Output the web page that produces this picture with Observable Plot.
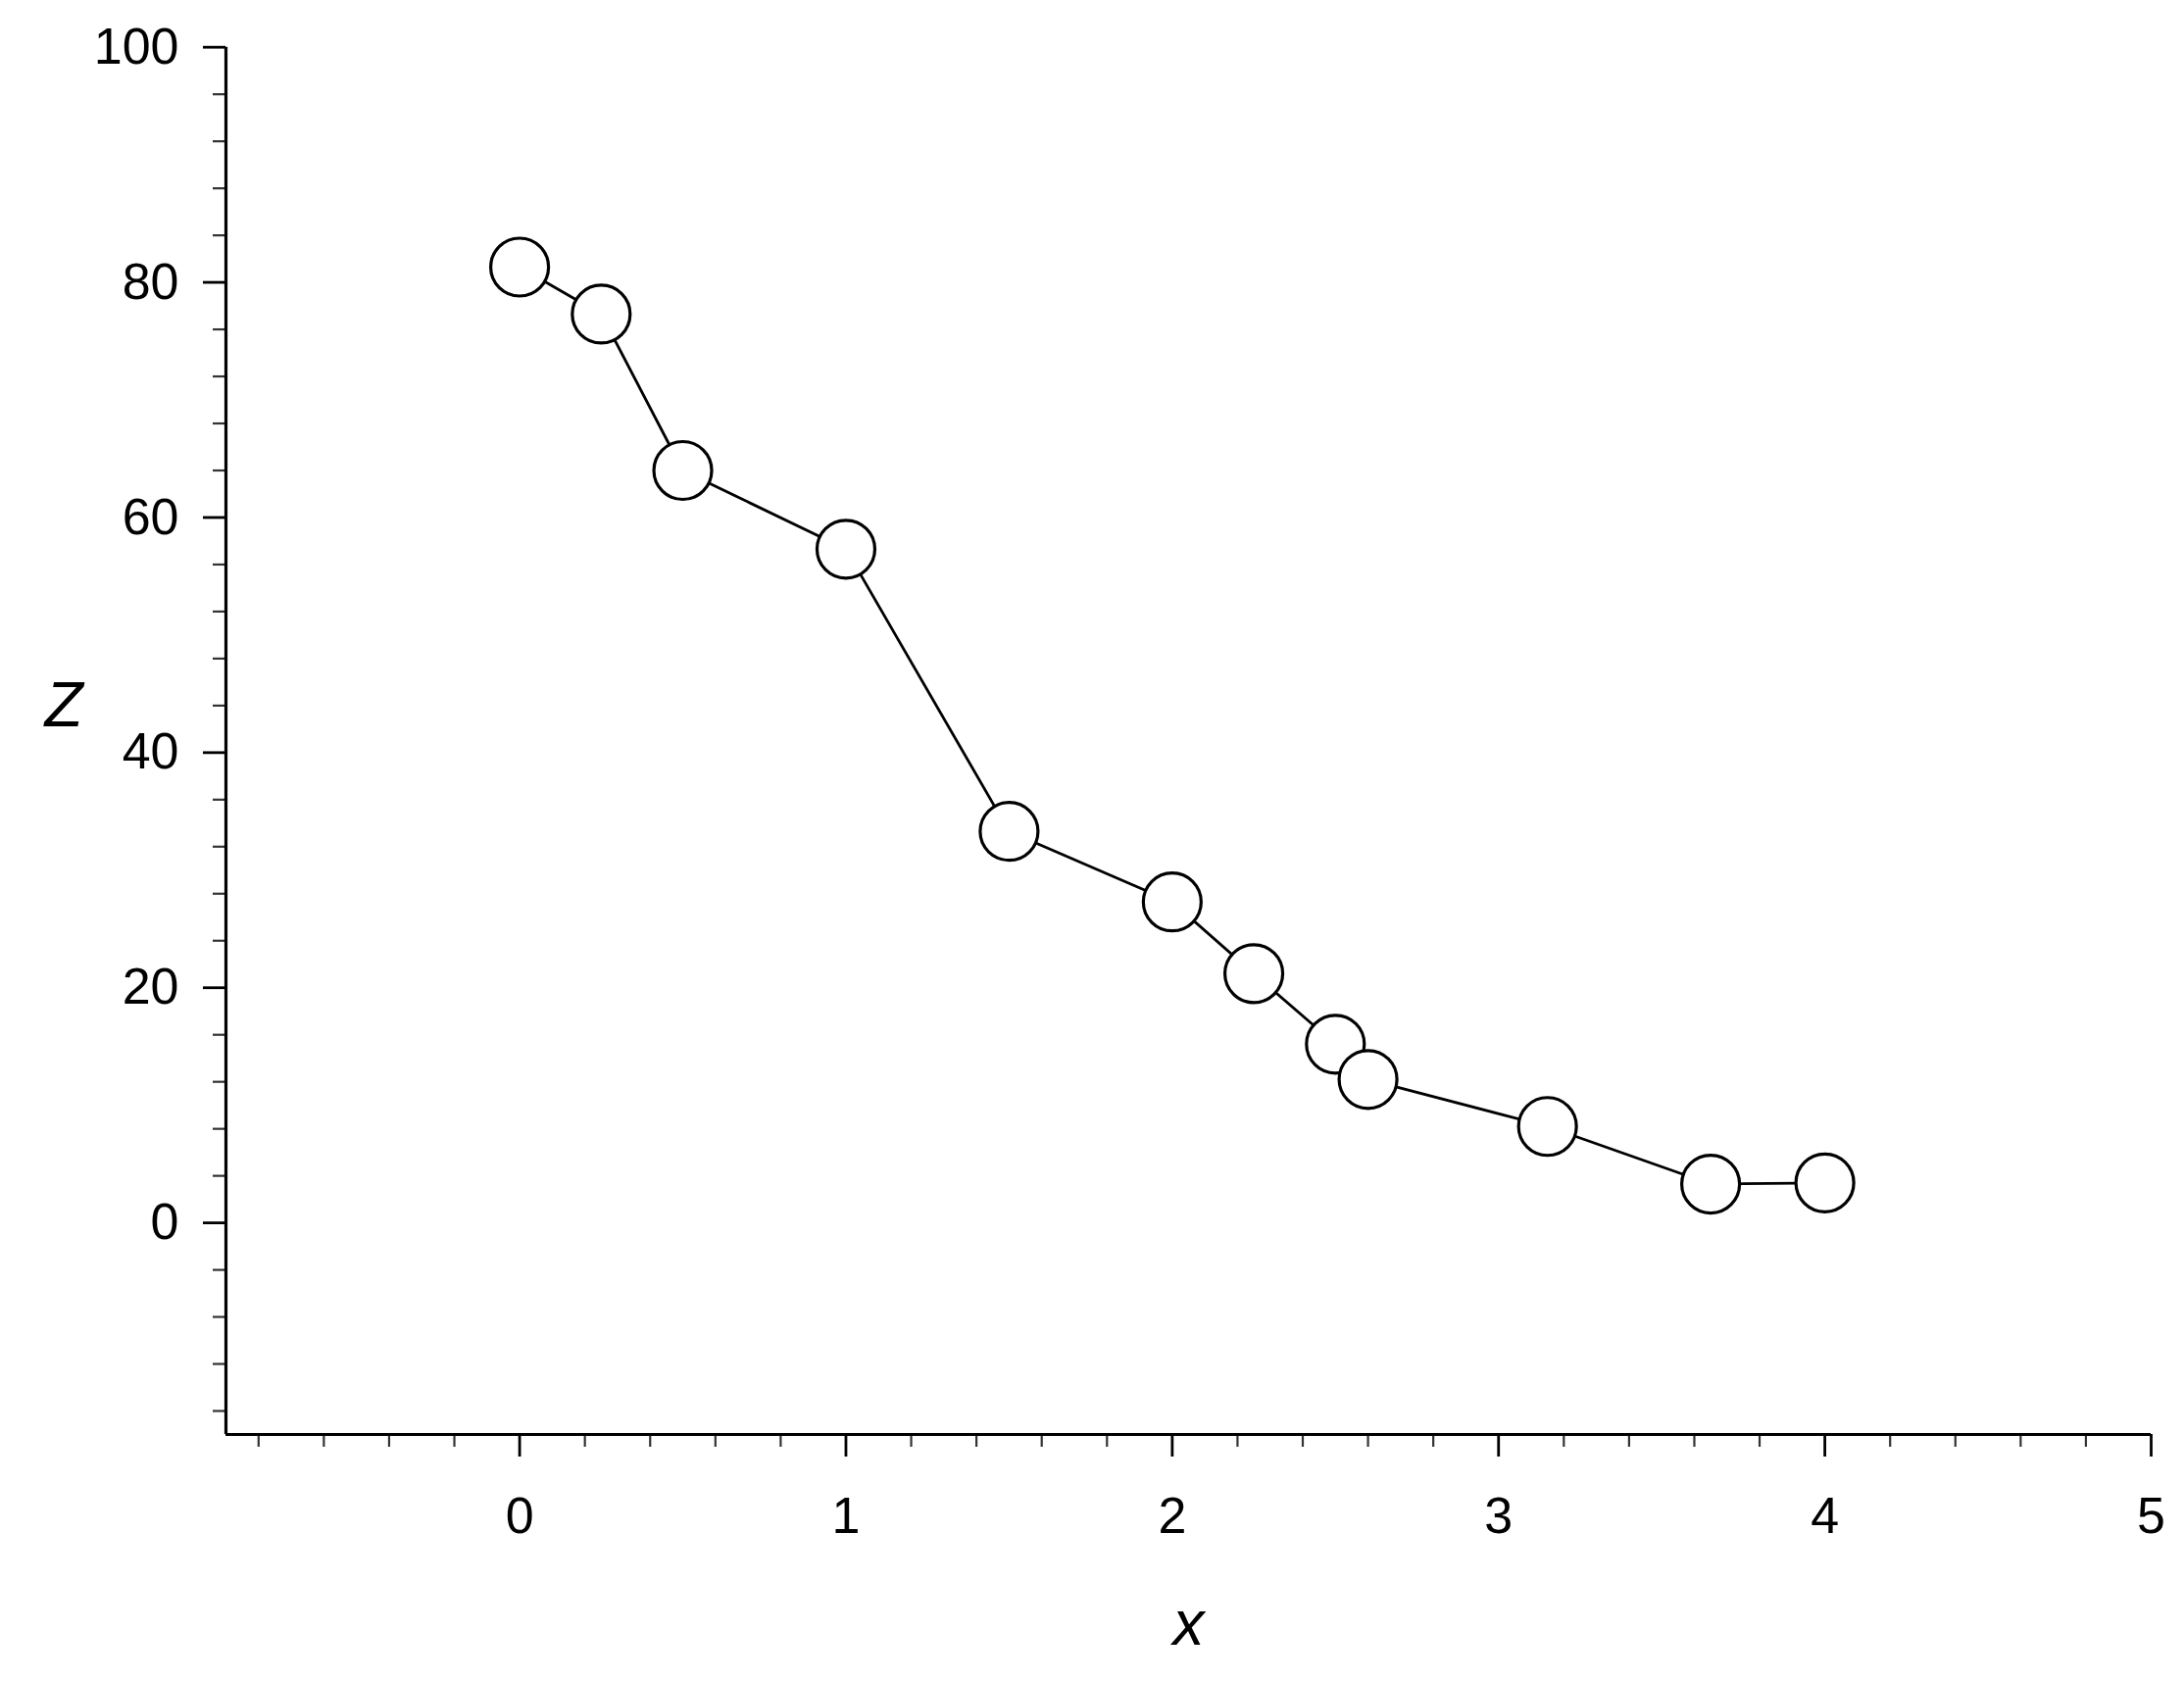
<!DOCTYPE html>
<html>
<head>
<meta charset="utf-8">
<script src="https://cdn.jsdelivr.net/npm/d3@7"></script>
<script src="https://cdn.jsdelivr.net/npm/@observablehq/plot@0.6"></script>
<style>
  html, body { margin: 0; padding: 0; background: #fff; }
  #chart svg { display: block; }
</style>
</head>
<body>
<div id="chart"></div>
<script>
// Data
const xValues = [0, 0.25, 0.5, 1, 1.5, 2, 2.25, 2.5, 2.6, 3.15, 3.65, 4];
const zValues = [81.3, 77.3, 64.0, 57.3, 33.3, 27.3, 21.2, 15.2, 12.2, 8.2, 3.3, 3.4];

// Axis ticks
const xMajorTicks = [0, 1, 2, 3, 4, 5];
const yMajorTicks = [0, 20, 40, 60, 80, 100];
const xDomain = [-0.9, 5];
const yDomain = [-18, 100];
const xMinorTicks = d3.range(-4, 25).filter(i => i % 5 !== 0).map(i => i / 5);
const yMinorTicks = d3.range(-4, 25).filter(i => i % 5 !== 0).map(i => i * 4);

const points = xValues.map((x, i) => ({x, z: zValues[i]}));

const fontFamily = "'Liberation Sans', Arial, sans-serif";

const chart = Plot.plot({
  width: 2228,
  height: 1715,
  marginLeft: 230,
  marginRight: 34,
  marginTop: 47.7,
  marginBottom: 252,
  style: {fontFamily, color: "#000", background: "#fff", overflow: "visible"},
  x: {domain: xDomain, axis: null},
  y: {domain: yDomain, axis: null},
  marks: [
    // minor ticks
    Plot.axisX(xMinorTicks, {tickSize: 13, text: null, label: null, strokeWidth: 2.2, stroke: "#333"}),
    Plot.axisY(yMinorTicks, {tickSize: 13, text: null, label: null, strokeWidth: 2.2, stroke: "#333"}),
    // major ticks + labels
    Plot.axisX(xMajorTicks, {tickSize: 23, tickPadding: 41, fontSize: 52, strokeWidth: 2.8, stroke: "#000", fill: "#000", label: null, tickFormat: d => String(d)}),
    Plot.axisY(yMajorTicks, {tickSize: 23, tickPadding: 25, fontSize: 52, strokeWidth: 2.8, stroke: "#000", fill: "#000", label: null, tickFormat: d => String(d)}),
    // axis lines
    Plot.ruleX([xDomain[0]], {stroke: "#000", strokeWidth: 3.2}),
    Plot.ruleY([yDomain[0]], {stroke: "#000", strokeWidth: 3.2}),
    // axis titles
    Plot.text(["x"], {frameAnchor: "bottom", dy: 214, fontSize: 64, fontStyle: "italic", fill: "#000"}),
    Plot.text(["Z"], {frameAnchor: "left", dx: -185, dy: -35, fontSize: 64, fontStyle: "italic", fill: "#000"}),
    // series
    Plot.line(points, {x: "x", y: "z", stroke: "#000", strokeWidth: 2.8}),
    Plot.dot(points, {x: "x", y: "z", r: 29.5, fill: "#fff", stroke: "#000", strokeWidth: 3.2})
  ]
});

document.getElementById("chart").appendChild(chart);
</script>
</body>
</html>
